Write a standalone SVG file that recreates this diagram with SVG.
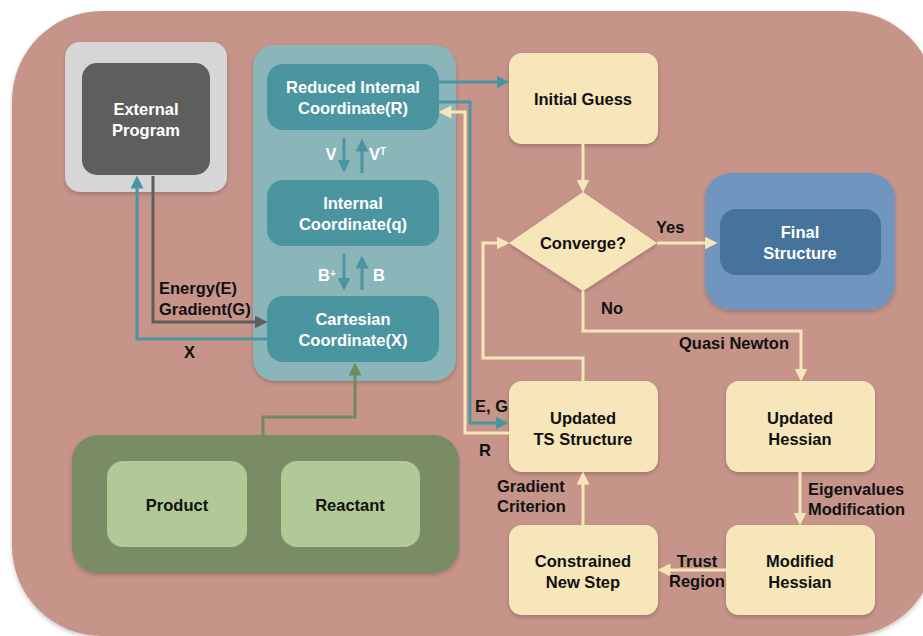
<svg xmlns="http://www.w3.org/2000/svg" width="923" height="636" viewBox="0 0 923 636">
<defs>
<filter id="sh" x="-10%" y="-10%" width="120%" height="130%"><feDropShadow dx="0" dy="2" stdDeviation="2" flood-color="#000" flood-opacity="0.22"/></filter>
<marker id="aTeal" viewBox="0 0 12 12" refX="6" refY="6" markerWidth="13" markerHeight="13" markerUnits="userSpaceOnUse" orient="auto"><path d="M0,0 L12,6 L0,12 z" fill="#4A95A0"/></marker>
<marker id="aGray" viewBox="0 0 12 12" refX="6" refY="6" markerWidth="13" markerHeight="13" markerUnits="userSpaceOnUse" orient="auto"><path d="M0,0 L12,6 L0,12 z" fill="#5E5E5E"/></marker>
<marker id="aCream" viewBox="0 0 12 12" refX="6" refY="6" markerWidth="13" markerHeight="13" markerUnits="userSpaceOnUse" orient="auto"><path d="M0,0 L12,6 L0,12 z" fill="#F7E6BA"/></marker>
<marker id="aGreen" viewBox="0 0 12 12" refX="6" refY="6" markerWidth="13" markerHeight="13" markerUnits="userSpaceOnUse" orient="auto"><path d="M0,0 L12,6 L0,12 z" fill="#6F8A5C"/></marker>
</defs>
<style>
text{font-family:"Liberation Sans",Arial,sans-serif;font-weight:bold;font-size:16.5px;}
.w{fill:#FFFFFF;text-anchor:middle;}
.b{fill:#111111;text-anchor:middle;}
.l{fill:#111111;}
.cream{fill:#F7E6BA;filter:url(#sh);}
.tealbox{fill:#4A95A0;}
.c{fill:none;stroke-width:3;}
.ct{stroke:#4A95A0;marker-end:url(#aTeal);}
.cg{stroke:#5E5E5E;marker-end:url(#aGray);}
.cc{stroke:#F7E6BA;marker-end:url(#aCream);}
.cgr{stroke:#6F8A5C;marker-end:url(#aGreen);}
</style>
<rect x="12" y="11" width="924" height="625" rx="90" fill="#C7948A" filter="url(#sh)"/>

<g id="external-program">
<rect x="65" y="42" width="162" height="150" rx="15" fill="#D6D6D6" filter="url(#sh)"/>
<rect x="82" y="63" width="128" height="112" rx="15" fill="#5E5E5E"/>
<text class="w" x="146" y="115">External</text>
<text class="w" x="146" y="136">Program</text>
</g>

<g id="coordinates">
<rect x="253" y="45" width="203" height="336" rx="22" fill="#8AB5B9" filter="url(#sh)"/>
</g>
<g id="reduced-internal">
<rect class="tealbox" x="267" y="64" width="172" height="66" rx="16"/>
<text class="w" x="353" y="93">Reduced Internal</text>
<text class="w" x="353" y="114">Coordinate(R)</text>
</g>
<g id="internal">
<rect class="tealbox" x="267" y="180" width="172" height="66" rx="16"/>
<text class="w" x="353" y="209">Internal</text>
<text class="w" x="353" y="230">Coordinate(q)</text>
</g>
<g id="cartesian">
<rect class="tealbox" x="267" y="296" width="172" height="66" rx="16"/>
<text class="w" x="353" y="325">Cartesian</text>
<text class="w" x="353" y="346">Coordinate(X)</text>
</g>

<g id="initial-guess">
<rect class="cream" x="509" y="53" width="149" height="91" rx="13"/>
<text class="b" x="583" y="105">Initial Guess</text>
</g>
<g id="converge">
<path class="cream" d="M583,192 L657,243 L583,291 L509,243 z"/>
<text class="b" x="583" y="249">Converge?</text>
</g>
<g id="final-structure">
<rect x="705" y="173" width="190" height="137" rx="26" fill="#7096BF" filter="url(#sh)"/>
<rect x="720" y="209" width="161" height="66" rx="16" fill="#45739B"/>
<text class="w" x="800" y="238">Final</text>
<text class="w" x="800" y="259">Structure</text>
</g>
<g id="updated-ts">
<rect class="cream" x="509" y="381" width="149" height="91" rx="13"/>
<text class="b" x="583" y="424">Updated</text>
<text class="b" x="583" y="445">TS Structure</text>
</g>
<g id="updated-hessian">
<rect class="cream" x="726" y="381" width="149" height="91" rx="13"/>
<text class="b" x="800" y="424">Updated</text>
<text class="b" x="800" y="445">Hessian</text>
</g>
<g id="modified-hessian">
<rect class="cream" x="726" y="525" width="149" height="90" rx="13"/>
<text class="b" x="800" y="567">Modified</text>
<text class="b" x="800" y="588">Hessian</text>
</g>
<g id="constrained">
<rect class="cream" x="509" y="525" width="149" height="90" rx="13"/>
<text class="b" x="583" y="567">Constrained</text>
<text class="b" x="583" y="588">New Step</text>
</g>

<g id="structures">
<rect x="72" y="435" width="387" height="138" rx="26" fill="#7A8C63" filter="url(#sh)"/>
</g>
<g id="product">
<rect x="107" y="461" width="140" height="86" rx="16" fill="#B0C996"/>
<text class="b" x="177" y="511">Product</text>
</g>
<g id="reactant">
<rect x="281" y="461" width="139" height="86" rx="16" fill="#B0C996"/>
<text class="b" x="350" y="511">Reactant</text>
</g>

<g id="connectors">
<path class="c cg" d="M153,176 V322 H261"/>
<path class="c ct" d="M267,339 H137 V182"/>
<path class="c ct" d="M439,82 H503"/>
<path class="c ct" d="M439,102 H470 V423 H502"/>
<path class="c cc" d="M509,433 H465 V112 H445"/>
<path class="c ct" d="M344,138 V166"/>
<path class="c ct" d="M362,173 V145"/>
<path class="c ct" d="M344,254 V284"/>
<path class="c ct" d="M362,290 V262"/>
<path class="c cgr" d="M263,435 V417 H355 V369"/>
<path class="c cc" d="M583,144 V186"/>
<path class="c cc" d="M657,243 H711"/>
<path class="c cc" d="M583,291 V331 H801 V375"/>
<path class="c cc" d="M583,381 V358 H483 V243 H503"/>
<path class="c cc" d="M800,472 V519"/>
<path class="c cc" d="M726,570 H664"/>
<path class="c cc" d="M583,525 V478"/>
</g>

<g id="labels">
<text class="w" x="331" y="160">V</text>
<text class="w" x="369" y="160" style="text-anchor:start">V<tspan font-size="10" dy="-5">T</tspan></text>
<text class="w" x="327" y="281">B<tspan font-size="10" dy="-4">+</tspan></text>
<text class="w" x="379" y="281">B</text>
<text class="l" x="159" y="294">Energy(E)</text>
<text class="l" x="159" y="315">Gradient(G)</text>
<text class="l" x="184" y="358">X</text>
<text class="l" x="475" y="412">E, G</text>
<text class="l" x="479" y="456">R</text>
<text class="l" x="656" y="233">Yes</text>
<text class="l" x="601" y="314">No</text>
<text class="l" x="679" y="349">Quasi Newton</text>
<text class="l" x="808" y="495">Eigenvalues</text>
<text class="l" x="808" y="515">Modification</text>
<text class="b" x="697" y="567">Trust</text>
<text class="b" x="697" y="587">Region</text>
<text class="l" x="497" y="492">Gradient</text>
<text class="l" x="497" y="512">Criterion</text>
</g>
</svg>
